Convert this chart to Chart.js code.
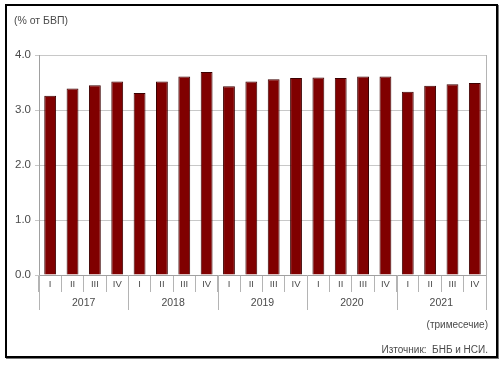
<!DOCTYPE html>
<html>
<head>
  <meta charset="utf-8">
  <title>Дефицит по текущата сметка</title>
  <script src="https://cdn.jsdelivr.net/npm/chart.js@4.4.0/dist/chart.umd.min.js"></script>
  <style>
  body { margin:0; background:#fff; font-family:"Liberation Sans", Arial, sans-serif; color:#4a4a4a; }
  #wrap { position:relative; width:503px; height:365px; }
  #frame { position:absolute; left:5px; top:4px; width:489px; height:350px; border:2px solid #000; box-shadow:1px 1px 0 #777; }
  canvas { position:absolute; left:0; top:0; }
  .txt { position:absolute; font-size:10px; white-space:nowrap; line-height:13px; }
  </style>
</head>
<body>
<div id="wrap">
  <div id="frame"></div>
  <canvas id="chart" width="503" height="365"></canvas>
  <div class="txt" style="left:14px; top:14px; font-size:10.5px;">(% от БВП)</div>
  <div class="txt" style="right:15px; top:318px;">(тримесечие)</div>
  <div class="txt" style="right:15px; top:343px;">Източник:&nbsp; БНБ и НСИ.</div>
</div>
<script>
var quarters = ['I','II','III','IV'];
var years = ['2017','2018','2019','2020','2021'];
var values = [3.26,3.39,3.45,3.52, 3.31,3.52,3.61,3.69, 3.43,3.52,3.56,3.58, 3.59,3.58,3.61,3.61, 3.33,3.44,3.47,3.49];
var yTicks = [0,1,2,3,4];

var labels = [];
years.forEach(function(y){ quarters.forEach(function(q){ labels.push(q); }); });

// year row + plot frame
var yearAxis = {
  id:'yearAxis',
  afterDraw:function(chart){
    var c = chart.ctx, x = chart.scales.x, a = chart.chartArea;
    var step = x.getPixelForValue(1) - x.getPixelForValue(0);
    c.save();
    c.strokeStyle = '#b4b4b4';
    c.lineWidth = 1;
    c.beginPath();
    c.moveTo(a.right + 0.5, a.top); c.lineTo(a.right + 0.5, a.bottom);
    for (var i = 0; i <= years.length; i++) {
      var px = Math.round(x.getPixelForValue(i*4) - step/2) + 0.5;
      c.moveTo(px, a.bottom); c.lineTo(px, a.bottom + 35);
    }
    c.stroke();
    c.fillStyle = '#4a4a4a';
    c.font = '10.5px "Liberation Sans", Arial, sans-serif';
    c.textAlign = 'center';
    c.textBaseline = 'middle';
    years.forEach(function(y, i){
      var cx = (x.getPixelForValue(i*4) + x.getPixelForValue(i*4+3)) / 2;
      c.fillText(y, cx, a.bottom + 28);
    });
    c.restore();
  }
};

new Chart(document.getElementById('chart'), {
  type:'bar',
  data:{
    labels:labels,
    datasets:[{
      data:values,
      backgroundColor:'#800000',
      borderColor:'#3c0000',
      borderWidth:1,
      barPercentage:0.53,
      categoryPercentage:1
    }]
  },
  options:{
    responsive:false,
    animation:false,
    layout:{ padding:{ left:0, top:55, right:17, bottom:0 } },
    plugins:{ legend:{display:false}, tooltip:{enabled:false} },
    scales:{
      x:{
        afterFit:function(s){ s.height = 90; },
        grid:{ offset:true, drawOnChartArea:false, tickLength:17, color:'#b4b4b4' },
        border:{ color:'#a0a0a0' },
        ticks:{ padding:-13, color:'#4a4a4a', font:{ size:9.5, family:'"Liberation Sans", Arial, sans-serif' }, maxRotation:0, autoSkip:false }
      },
      y:{
        min:0, max:4,
        afterFit:function(s){ s.width = 39; },
        afterBuildTicks:function(s){ s.ticks = yTicks.map(function(v){ return {value:v}; }); },
        grid:{ color:'#c8c8c8', tickLength:4 },
        border:{ color:'#a0a0a0' },
        ticks:{ padding:4, color:'#4a4a4a', font:{ size:11.5, family:'"Liberation Sans", Arial, sans-serif' },
          callback:function(v){ return v.toFixed(1); } }
      }
    }
  },
  plugins:[yearAxis]
});
</script>
</body>
</html>
